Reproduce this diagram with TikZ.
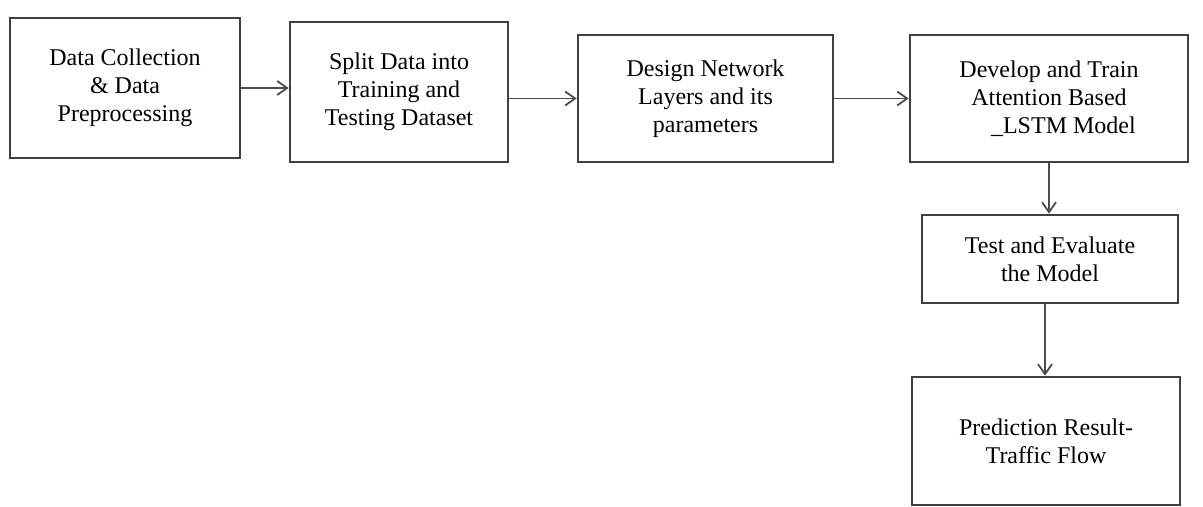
\documentclass[tikz,border=0pt]{standalone}
\usepackage{fontspec}
\setmainfont{Liberation Serif}
\usetikzlibrary{arrows.meta}
\begin{document}
\begin{tikzpicture}[x=0.5pt, y=-0.5pt,
    every node/.style={font=\fontsize{12}{14}\selectfont, align=center},
    blk/.style={draw=black!75, line width=1.3pt, inner sep=0pt},
    flow/.style={-{Straight Barb[length=5pt, width=7pt]}, draw=black!70, line width=0.9pt}]
            \useasboundingbox (0,0) rectangle (1203,507);
            \node[blk, minimum width=115pt, minimum height=70pt] (collect) at (125,88)
            {Data Collection\\ \& Data\\ Preprocessing};
            \node[blk, minimum width=109pt, minimum height=70pt] (split) at (399,92)
            {Split Data into\\ Training and\\ Testing Dataset};
            \node[blk, minimum width=127.5pt, minimum height=63.5pt] (design) at (705.5,98.5)
            {Design Network\\ Layers and its\\ parameters};
            \node[blk, minimum width=139pt, minimum height=63.5pt] (train) at (1049,98.5)
            {Develop and Train\\ Attention Based\\ \hspace{1.2em}\_LSTM Model};
            \node[blk, minimum width=128pt, minimum height=44pt] (test) at (1050,259)
            {Test and Evaluate\\ the Model};
            \node[blk, minimum width=134pt, minimum height=64pt] (result) at (1046,441)
            {Prediction Result-\\ Traffic Flow};
            \draw[flow] (collect.east) -- (collect.east -| split.west);
            \draw[flow] (split.east |- design.west) -- (design.west);
            \draw[flow] (design.east) -- (train.west);
            \draw[flow] (train.south) -- (train.south |- test.north);
            \draw[flow] (test.south -| 1045,0) -- (result.north -| 1045,0);
        \end{tikzpicture}
\end{document}
